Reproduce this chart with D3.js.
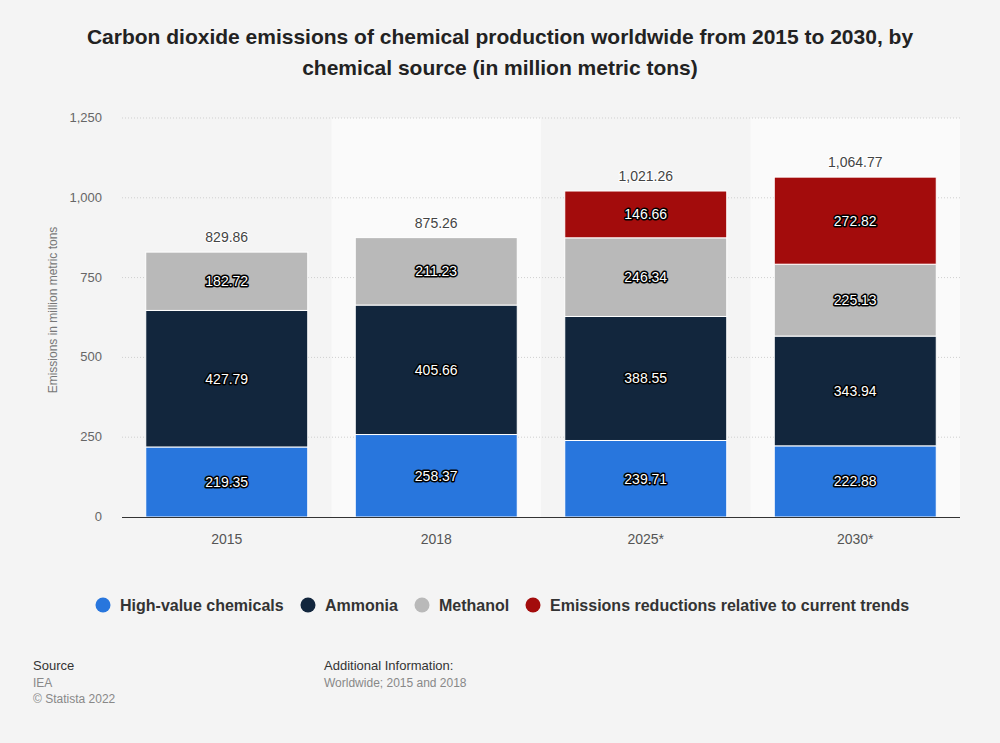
<!DOCTYPE html>
<html><head><meta charset="utf-8">
<script src="https://cdn.jsdelivr.net/npm/d3@7"></script>
<style>body{margin:0;background:#f4f4f4;}svg{display:block;font-family:"Liberation Sans",Arial,sans-serif;}</style>
</head><body><svg id="c" width="1000" height="743"></svg>
<script>
const categories = ["2015","2018","2025*","2030*"];
const seriesNames = ["High-value chemicals","Ammonia","Methanol","Emissions reductions relative to current trends"];
const highValue = [219.35,258.37,239.71,222.88];
const ammonia = [427.79,405.66,388.55,343.94];
const methanol = [182.72,211.23,246.34,225.13];
const reductions = [0,0,146.66,272.82];
const totals = [829.86,875.26,1021.26,1064.77];
const yTicks = [0,250,500,750,1000,1250];
const colors = ["#2876dd","#12263d","#b9b9b9","#a30c0c"];

const svg = d3.select("#c");
svg.append("rect").attr("width",1000).attr("height",743).attr("fill","#f4f4f4");
const x0=122,x1=960,yTop=118,yBot=517;
const x = d3.scaleBand().domain(categories).range([x0,x1]).paddingInner(0).paddingOuter(0);
const y = d3.scaleLinear().domain([0,1250]).range([yBot,yTop]);

// alternating bands
svg.selectAll("rect.band").data(categories).enter().append("rect")
 .attr("x",d=>x(d)).attr("y",yTop).attr("width",x.bandwidth()).attr("height",yBot-yTop)
 .attr("fill",(d,i)=>i%2? "#fafafa":"#f4f4f4");

// grid
svg.selectAll("line.grid").data(yTicks.filter(d=>d>0)).enter().append("line")
 .attr("x1",x0).attr("x2",x1).attr("y1",d=>y(d)).attr("y2",d=>y(d))
 .attr("stroke","#cfcfcf").attr("stroke-dasharray","1,2");

// y tick labels
svg.selectAll("text.yt").data(yTicks).enter().append("text")
 .attr("x",102).attr("y",d=>y(d)+4).attr("text-anchor","end")
 .attr("font-size",13).attr("fill","#666").text(d=>d3.format(",")(d));

svg.append("text").attr("transform",`translate(57,310) rotate(-90)`)
 .attr("text-anchor","middle").attr("font-size",12).attr("fill","#777")
 .text("Emissions in million metric tons");

// stacks
const rows = categories.map((c,i)=>({cat:c,s0:highValue[i],s1:ammonia[i],s2:methanol[i],s3:reductions[i]}));
const stack = d3.stack().keys(["s0","s1","s2","s3"])(rows);
const bw = 162, off=(x.bandwidth()-bw)/2;
stack.forEach((layer,li)=>{
  layer.forEach((d,ci)=>{
    const v=d[1]-d[0]; if(v<=0) return;
    svg.append("rect").attr("x",x(categories[ci])+off).attr("width",bw)
      .attr("y",y(d[1])).attr("height",y(d[0])-y(d[1]))
      .attr("fill",colors[li]).attr("stroke","#fff").attr("stroke-width",1);
  });
});
stack.forEach((layer,li)=>{
  layer.forEach((d,ci)=>{
    const v=d[1]-d[0]; if(v<=0) return;
    const cx=x(categories[ci])+x.bandwidth()/2, cy=(y(d[0])+y(d[1]))/2+5;
    svg.append("text").attr("x",cx).attr("y",cy).attr("text-anchor","middle")
      .attr("font-size",14).attr("fill","#fff").attr("stroke","#000").attr("stroke-width",3)
      .attr("stroke-linejoin","round").attr("paint-order","stroke").text(d3.format(".2f")(v));
  });
});
// totals
svg.selectAll("text.tot").data(totals).enter().append("text")
 .attr("x",(d,i)=>x(categories[i])+x.bandwidth()/2).attr("y",d=>y(d)-10)
 .attr("text-anchor","middle").attr("font-size",14).attr("fill","#444")
 .attr("stroke","#fff").attr("stroke-width",2).attr("paint-order","stroke")
 .text(d=>d3.format(",.2f")(d));

// x axis
svg.append("line").attr("x1",x0).attr("x2",x1).attr("y1",yBot+0.5).attr("y2",yBot+0.5).attr("stroke","#333");
svg.selectAll("text.xt").data(categories).enter().append("text")
 .attr("x",d=>x(d)+x.bandwidth()/2).attr("y",544).attr("text-anchor","middle")
 .attr("font-size",14).attr("fill","#555").text(d=>d);

// title
const title=svg.append("text").attr("text-anchor","middle").attr("font-size",21).attr("font-weight","bold").attr("fill","#222");
title.append("tspan").attr("x",500).attr("y",44).text("Carbon dioxide emissions of chemical production worldwide from 2015 to 2030, by");
title.append("tspan").attr("x",500).attr("y",75).text("chemical source (in million metric tons)");

// legend
const legX=[103,308,422,533];
seriesNames.forEach((n,i)=>{
  svg.append("circle").attr("cx",legX[i]).attr("cy",605).attr("r",7.5).attr("fill",colors[i]);
  svg.append("text").attr("x",legX[i]+17).attr("y",611).attr("font-size",16).attr("font-weight","bold")
   .attr("fill","#333").text(n);
});

// footer
const ft=(t,xx,yy,c,s)=>svg.append("text").attr("x",xx).attr("y",yy).attr("font-size",s).attr("fill",c).text(t);
ft("Source",33,670,"#333",13);ft("IEA",33,687,"#888",12);ft("© Statista 2022",33,703,"#888",12);
ft("Additional Information:",324,670,"#333",13);ft("Worldwide; 2015 and 2018",324,687,"#888",12);
</script></body></html>
